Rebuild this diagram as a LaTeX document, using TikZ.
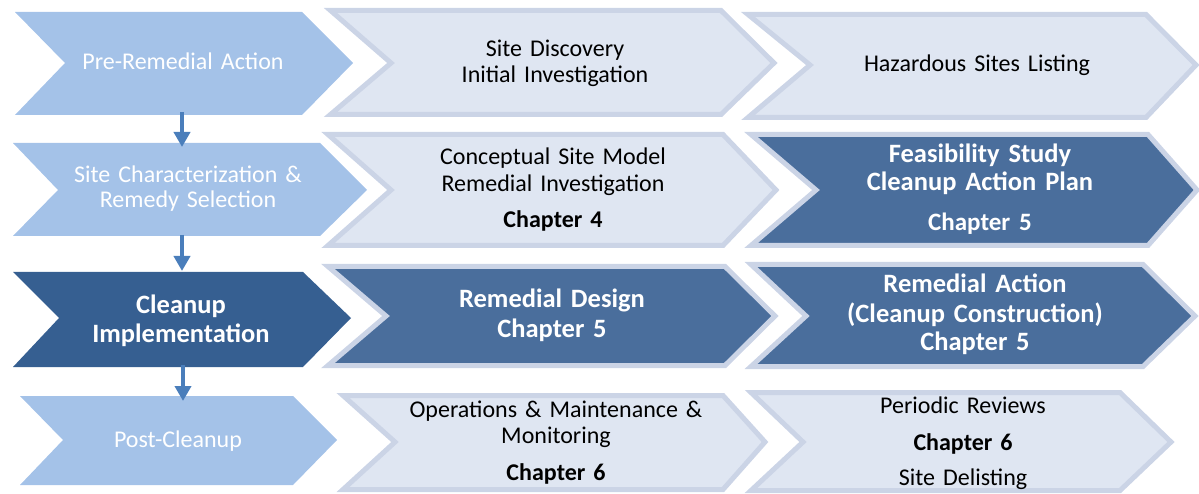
\documentclass[tikz,border=0pt]{standalone}
\usepackage{fontspec}
\setmainfont{Carlito}
\usetikzlibrary{arrows.meta}
\definecolor{lightblue}{HTML}{A4C2E8}
\definecolor{darkleft}{HTML}{365F91}
\definecolor{darkfill}{HTML}{4A6E9C}
\definecolor{palefill}{HTML}{DFE6F2}
\definecolor{paleborder}{HTML}{CBD4E6}
\definecolor{arrowblue}{HTML}{4A7EBB}
\newcommand\mychev[8]{\path[#1] (#2,#4) -- (#3,#4) -- (#7,#6) -- (#3,#5) -- (#2,#5) -- (#8,#6) -- cycle;}
\tikzset{
  leftlight/.style={fill=lightblue},
  leftdark/.style={fill=darkleft},
  pale/.style={fill=palefill, draw=paleborder, line width=5pt, line join=miter},
  darkbox/.style={fill=darkfill, draw=paleborder, line width=5pt, line join=miter},
  txt/.style={text width=420pt, align=center, inner sep=0pt, anchor=base, font=\fontsize{24}{26}\selectfont},
  wtxt/.style={txt, text=white},
  btxt/.style={txt, text=white, font=\fontsize{26.5}{29}\selectfont\bfseries},
  flow/.style={draw=arrowblue, line width=4.5pt, -{Triangle[width=16pt,length=15pt]}}
}
\begin{document}
\begin{tikzpicture}[x=1pt,y=-1pt]
\useasboundingbox (0,0) rectangle (1199,494);
% left column
\mychev{leftlight}{15}{302}{12}{115}{63}{353}{65}
\mychev{leftlight}{13}{320}{143}{236}{190}{367}{58}
\mychev{leftdark}{13}{303}{272}{367}{318}{351}{59}
\mychev{leftlight}{20}{293}{396}{485}{440}{337}{63}
% middle column
\mychev{pale}{330.5}{721}{10.5}{114.5}{63}{774}{391}
\mychev{pale}{328}{723}{134.5}{245.5}{190}{776}{391}
\mychev{darkbox}{328}{725}{266.5}{365.5}{316}{775}{386}
\mychev{pale}{343}{723}{395.5}{489.5}{442}{765}{395}
% right column
\mychev{pale}{748}{1146}{14.5}{117.5}{65}{1196}{810}
\mychev{darkbox}{751}{1148}{134.5}{245.5}{190}{1197}{816}
\mychev{darkbox}{751}{1143}{264.5}{366.5}{316}{1195}{806}
\mychev{pale}{751}{1120}{392.5}{490.5}{442}{1171}{803}
% connector end points
\coordinate (a1s) at (182,112);
\coordinate (a1e) at (182,147);
\coordinate (a2s) at (182,235);
\coordinate (a2e) at (182,271);
\coordinate (a3s) at (183,365);
\coordinate (a3e) at (183,401);
\draw[flow] (a1s) -- (a1e);
\draw[flow] (a2s) -- (a2e);
\draw[flow] (a3s) -- (a3e);
% texts
\node[wtxt] (pre) at (183,70) {Pre-Remedial Action};
\node[wtxt, font=\fontsize{24}{25}\selectfont] (char) at (188,183) {Site Characterization \&\\Remedy Selection};
\node[btxt] (impl) at (181,313) {Cleanup\\Implementation};
\node[wtxt] (post) at (178,447) {Post-Cleanup};
\node[txt] (disc) at (555,57) {Site Discovery\\Initial Investigation};
\node[txt, font=\fontsize{24}{27}\selectfont] (csm) at (553,165) {Conceptual Site Model\\Remedial Investigation\\[9pt]\textbf{Chapter 4}};
\node[btxt] (rd) at (552,308) {Remedial Design\\Chapter 5};
\node[txt] (om) at (556,417) {Operations \& Maintenance \&\\Monitoring\\[11pt]\textbf{Chapter 6}};
\node[txt] (haz) at (977,72) {Hazardous Sites Listing};
\node[btxt, font=\fontsize{26.5}{28}\selectfont\bfseries] (fs) at (980,163) {Feasibility Study\\Cleanup Action Plan\\[12pt]{\fontsize{25}{28}\selectfont Chapter 5}};
\node[btxt] (ra) at (975,293) {Remedial Action\\(Cleanup Construction)\\Chapter 5};
\node[txt] (pr) at (963,413) {Periodic Reviews\\[11pt]\textbf{Chapter 6}\\[9pt]Site Delisting};
\end{tikzpicture}
\end{document}
